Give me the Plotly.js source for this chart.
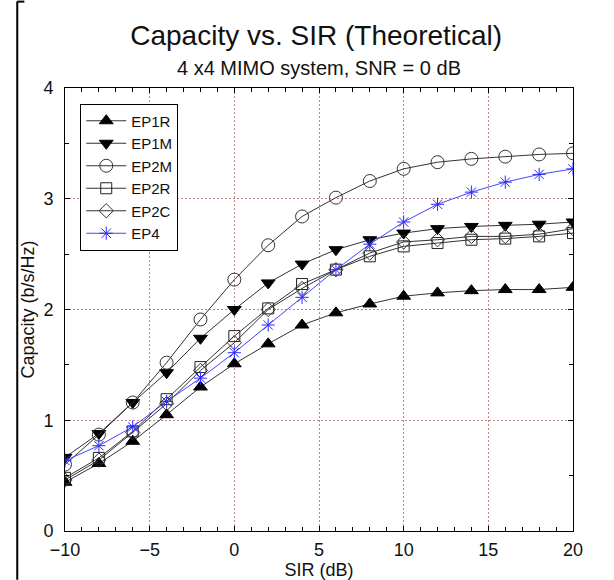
<!DOCTYPE html>
<html><head><meta charset="utf-8">
<script src="https://cdn.plot.ly/plotly-3.0.1.min.js"></script>
<style>html,body{margin:0;padding:0;background:#fff}</style>
</head><body>
<div id="chart" style="width:614px;height:580px"></div>
<script>
const sir = [-10,-8,-6,-4,-2,0,2,4,6,8,10,12,14,16,18,20];
const ep1r = [0.44,0.61,0.81,1.05,1.30,1.51,1.69,1.86,1.97,2.05,2.12,2.15,2.17,2.18,2.18,2.20];
const ep1m = [0.665,0.88,1.16,1.43,1.74,2.00,2.24,2.41,2.54,2.63,2.69,2.73,2.75,2.76,2.77,2.79];
const ep2m = [0.60,0.87,1.16,1.52,1.91,2.27,2.58,2.84,3.01,3.16,3.27,3.33,3.36,3.38,3.40,3.41];
const ep2r = [0.48,0.66,0.90,1.19,1.48,1.76,2.01,2.23,2.36,2.48,2.57,2.60,2.63,2.64,2.66,2.69];
const ep2c = [0.46,0.64,0.89,1.15,1.45,1.70,2.00,2.19,2.36,2.51,2.61,2.63,2.66,2.66,2.68,2.73];
const ep4  = [0.635,0.77,0.94,1.17,1.38,1.61,1.86,2.11,2.36,2.59,2.79,2.95,3.06,3.15,3.22,3.27];
const names = ['EP1R','EP1M','EP2M','EP2R','EP2C','EP4'];

const lineCol = '#333333';
function tr(y, name, symbol, size, color, lc) {
  return {x: sir, y: y, name: name, type: 'scatter', mode: 'lines+markers',
    line: {color: lc, width: 1},
    marker: {symbol: symbol, size: size, color: color, line: {color: color, width: 1}}};
}
const data = [
  tr(ep1r, names[0], 'triangle-up', 12, '#000', lineCol),
  tr(ep1m, names[1], 'triangle-down', 12, '#000', lineCol),
  tr(ep2m, names[2], 'circle-open', 13, '#333', lineCol),
  tr(ep2r, names[3], 'square-open', 11, '#222', lineCol),
  tr(ep2c, names[4], 'diamond-open', 11, '#333', lineCol),
  tr(ep4,  names[5], 'asterisk-open', 11, '#2a2aff', '#4444ff'),
];
const gridCol = 'rgba(160,95,95,0.75)';
const layout = {
  width: 614, height: 580,
  margin: {l: 65, r: 41, t: 88, b: 49},
  paper_bgcolor: '#fff', plot_bgcolor: '#fff',
  font: {family: 'Liberation Sans, Arial, sans-serif', color: '#111', size: 18},
  title: {text: 'Capacity vs. SIR (Theoretical)', font: {size: 28}, x: 0.515, xanchor: 'center', y: 0.94, yanchor: 'middle'},
  annotations: [{text: '4 x4 MIMO system, SNR = 0 dB', xref: 'paper', yref: 'paper', x: 0.5, y: 1.045, yanchor: 'middle', showarrow: false, font: {size: 20}}],
  xaxis: {range: [-10, 20], dtick: 5, tick0: 0, showline: true, linecolor: '#000', linewidth: 1, mirror: 'ticks',
    ticks: 'inside', ticklen: 5, tickcolor: '#000', showgrid: true, gridcolor: gridCol, griddash: '2px,2px', gridwidth: 1,
    zeroline: false, tickfont: {size: 18}, ticklabelstandoff: 2,
    minor: {dtick: 1, ticks: 'inside', ticklen: 4, tickcolor: '#000', showgrid: false},
    title: {text: 'SIR (dB)', font: {size: 18}, standoff: 6}},
  yaxis: {range: [0, 4], dtick: 1, showline: true, linecolor: '#000', linewidth: 1, mirror: 'ticks',
    ticks: 'inside', ticklen: 5, tickcolor: '#000', showgrid: true, gridcolor: gridCol, griddash: '2px,2px', gridwidth: 1,
    zeroline: false, tickfont: {size: 18}, ticklabelstandoff: 7,
    minor: {dtick: 0.5, ticks: 'inside', ticklen: 4, tickcolor: '#000', showgrid: false},
    title: {text: 'Capacity (b/s/Hz)', font: {size: 18}, standoff: 4}},
  legend: {x: 0.03, y: 0.965, xanchor: 'left', yanchor: 'top', bgcolor: '#fff', bordercolor: '#000', borderwidth: 1,
    font: {size: 15}, itemwidth: 40, tracegroupgap: 0},
  showlegend: true,
  shapes: [
    {type: 'line', xref: 'paper', yref: 'paper', x0: -0.094, x1: -0.094, y0: -0.11, y1: 1.195, line: {color: '#000', width: 2}},
    {type: 'line', xref: 'paper', yref: 'paper', x0: -0.094, x1: -0.08, y0: 1.195, y1: 1.195, line: {color: '#000', width: 2}}
  ]
};
Plotly.newPlot('chart', data, layout, {displayModeBar: false, staticPlot: true});
</script>
</body></html>
